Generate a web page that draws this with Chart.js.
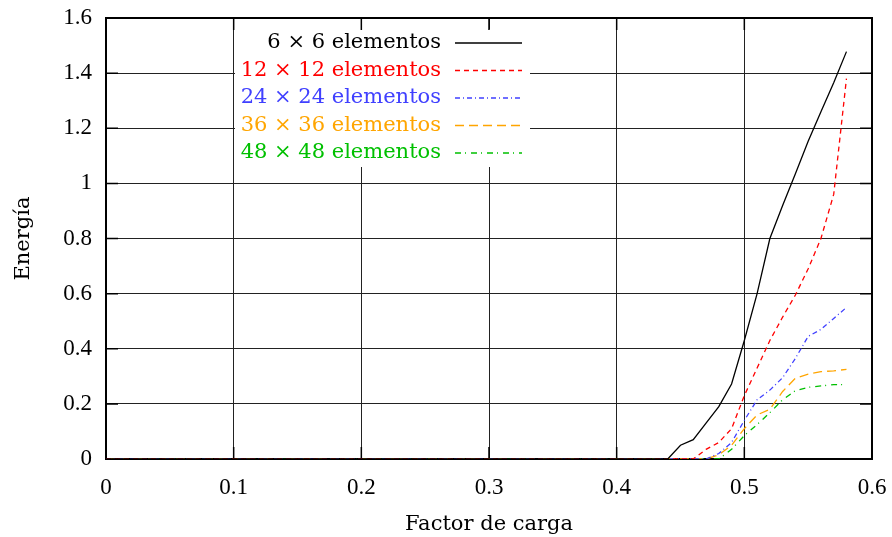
<!DOCTYPE html>
<html>
<head>
<meta charset="utf-8">
<script src="https://cdn.jsdelivr.net/npm/chart.js@4.4.1/dist/chart.umd.min.js"></script>
<style>
  html, body { margin: 0; padding: 0; background: #fff; }
  #wrap { width: 892px; height: 537px; }
</style>
</head>
<body>
<div id="wrap"><canvas id="chart"></canvas></div>
<script>
// load factor (x) and energy for each mesh
const factor = [0, 0.44, 0.45, 0.46, 0.47, 0.48, 0.49, 0.50, 0.51, 0.52, 0.53, 0.54, 0.55, 0.56, 0.57, 0.58];
const e6  = [0, 0, 0.05, 0.07, 0.13, 0.19, 0.272, 0.43, 0.60, 0.80, 0.92, 1.035, 1.153, 1.26, 1.365, 1.478];
const e12 = [0, 0, 0, 0, 0.035, 0.06, 0.11, 0.23, 0.33, 0.43, 0.515, 0.595, 0.69, 0.80, 0.96, 1.38];
const e24 = [0, 0, 0, 0, 0, 0.02, 0.06, 0.14, 0.215, 0.25, 0.295, 0.365, 0.445, 0.47, 0.51, 0.55];
const e36 = [0, 0, 0, 0, 0, 0.015, 0.05, 0.11, 0.16, 0.18, 0.245, 0.293, 0.308, 0.317, 0.32, 0.325];
const e48 = [0, 0, 0, 0, 0, 0, 0.035, 0.085, 0.125, 0.168, 0.215, 0.248, 0.26, 0.265, 0.27, 0.27];

const labels = ["6 \u00d7 6 elementos", "12 \u00d7 12 elementos", "24 \u00d7 24 elementos",
                "36 \u00d7 36 elementos", "48 \u00d7 48 elementos"];
const colors = ["#000000", "#ff0000", "#4040ff", "#ffa500", "#00c000"];
const dashes = [[], [5, 4], [5, 3, 1, 3], [9, 5], [6, 4, 1, 5]];
const series = [e6, e12, e24, e36, e48];

const serif = "'DejaVu Serif', 'Liberation Serif', serif";
const numFont = "'Liberation Serif', 'DejaVu Serif', serif";

const fmt = v => Number(v.toFixed(1)).toString();

// gnuplot-style frame, mirrored ticks and key box
const framePlugin = {
  id: "frame",
  beforeDatasetsDraw(chart) {
    const { ctx, chartArea: a, scales } = chart;
    ctx.save();
    // key background
    ctx.fillStyle = "#fff";
    ctx.fillRect(235, 29, 295, 138);

    // mirrored tick marks
    ctx.strokeStyle = "#000";
    ctx.lineWidth = 1.5;
    scales.y.ticks.forEach(t => {
      const y = scales.y.getPixelForValue(t.value);
      ctx.beginPath();
      ctx.moveTo(a.right - 12, y); ctx.lineTo(a.right, y);
      ctx.moveTo(a.left, y); ctx.lineTo(a.left + 12, y);
      ctx.stroke();
    });
    scales.x.ticks.forEach(t => {
      const x = scales.x.getPixelForValue(t.value);
      ctx.beginPath();
      ctx.moveTo(x, a.top); ctx.lineTo(x, a.top + 12);
      ctx.moveTo(x, a.bottom); ctx.lineTo(x, a.bottom - 12);
      ctx.stroke();
    });

    // frame
    ctx.lineWidth = 2;
    ctx.strokeRect(a.left, a.top, a.right - a.left, a.bottom - a.top);

    // key entries
    ctx.font = "21px " + serif;
    ctx.textAlign = "right";
    ctx.textBaseline = "middle";
    labels.forEach((text, i) => {
      const y = 43 + i * 27.5;
      ctx.fillStyle = colors[i];
      ctx.fillText(text, 441, y);
      ctx.strokeStyle = colors[i];
      ctx.lineWidth = 1.5;
      ctx.setLineDash(dashes[i]);
      ctx.beginPath();
      ctx.moveTo(455, y); ctx.lineTo(522, y);
      ctx.stroke();
      ctx.setLineDash([]);
    });
    ctx.restore();
  }
};

new Chart(document.getElementById("chart"), {
  type: "line",
  data: {
    datasets: series.map((vals, i) => ({
      label: labels[i],
      data: factor.map((x, j) => ({ x: x, y: vals[j] })),
      borderColor: colors[i],
      borderDash: dashes[i],
      borderWidth: 1.3,
      pointRadius: 0,
      tension: 0,
      fill: false
    }))
  },
  options: {
    responsive: true,
    maintainAspectRatio: false,
    animation: false,
    layout: { padding: { top: 18, right: 20, left: 0, bottom: 0 } },
    plugins: { legend: { display: false }, tooltip: { enabled: false } },
    scales: {
      x: {
        type: "linear",
        min: 0, max: 0.6,
        afterFit: s => { s.height = 78; s.paddingLeft = 0; s.paddingRight = 0; },
        grid: { color: "#222", lineWidth: 1, drawTicks: false },
        border: { display: false },
        ticks: {
          stepSize: 0.1, padding: 15, color: "#000",
          font: { family: numFont, size: 23 },
          callback: v => fmt(v),
          maxRotation: 0
        },
        title: {
          display: true, text: "Factor de carga", color: "#000",
          font: { family: serif, size: 21 },
          padding: { top: 0, bottom: 0 }
        }
      },
      y: {
        min: 0, max: 1.6,
        afterFit: s => { s.width = 106; s.paddingTop = 0; s.paddingBottom = 0; },
        grid: { color: "#222", lineWidth: 1, drawTicks: false },
        border: { display: false },
        ticks: {
          stepSize: 0.2, padding: 14, color: "#000",
          font: { family: numFont, size: 23 },
          callback: v => fmt(v)
        },
        title: {
          display: true, text: "Energía", color: "#000",
          font: { family: serif, size: 21 },
          padding: { top: 11, bottom: 0 }
        }
      }
    }
  },
  plugins: [framePlugin]
});
</script>
</body>
</html>
